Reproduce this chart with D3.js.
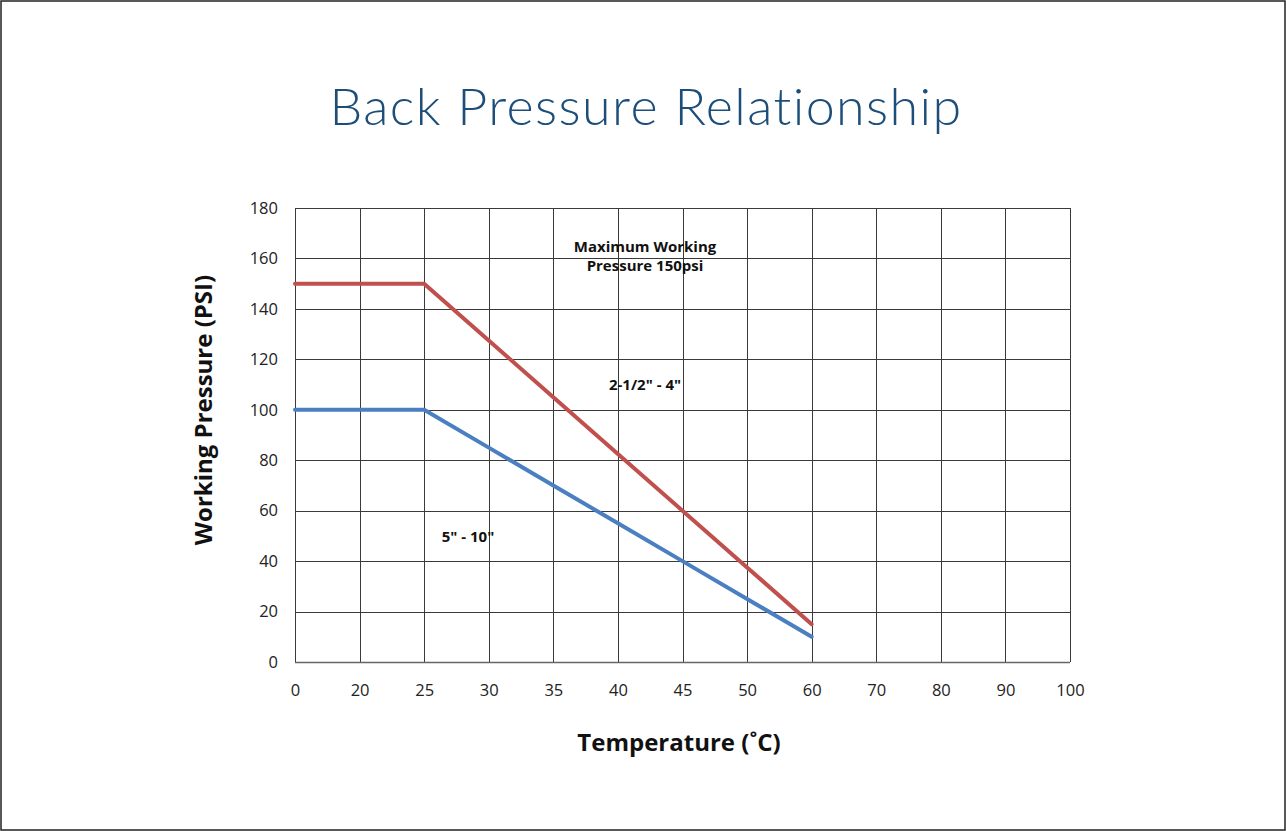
<!DOCTYPE html>
<html>
<head>
<meta charset="utf-8">
<script src="https://cdn.jsdelivr.net/npm/d3@7"></script>
<style>
  body { margin: 0; background: #fff; }
  text { font-family: "Open Sans", sans-serif; }
</style>
</head>
<body>
<svg id="chart" width="1286" height="831"></svg>
<script>
// temperature categories (evenly spaced on the chart, not linear)
var temps = ["0", "20", "25", "30", "35", "40", "45", "50", "60", "70", "80", "90", "100"];
var yTicks = [0, 20, 40, 60, 80, 100, 120, 140, 160, 180];

// pressure rating per size group
var smallSizes = [
  { t: "0", p: 150 }, { t: "20", p: 150 }, { t: "25", p: 150 },
  { t: "30", p: 127.5 }, { t: "35", p: 105 }, { t: "40", p: 82.5 },
  { t: "45", p: 60 }, { t: "50", p: 37.5 }, { t: "60", p: 15 }
];
var largeSizes = [
  { t: "0", p: 100 }, { t: "20", p: 100 }, { t: "25", p: 100 },
  { t: "30", p: 85 }, { t: "35", p: 70 }, { t: "40", p: 55 },
  { t: "45", p: 40 }, { t: "50", p: 25 }, { t: "60", p: 10 }
];

var svg = d3.select("#chart");

// outer frame
svg.append("rect")
  .attr("x", 1).attr("y", 1)
  .attr("width", 1284).attr("height", 829)
  .attr("fill", "none").attr("stroke", "#222").attr("stroke-width", 1.5);

svg.append("text")
  .attr("x", 646).attr("y", 125)
  .attr("text-anchor", "middle")
  .style("font-family", "Lato, 'Open Sans', sans-serif")
  .style("font-weight", 300)
  .style("font-size", "52px")
  .style("letter-spacing", "1.4px")
  .style("fill", "#1d4e7a")
  .text("Back Pressure Relationship");

var pLeft = 295, pRight = 1070, pTop = 208, pBottom = 662;

var x = d3.scalePoint().domain(temps).range([pLeft, pRight]);
var y = d3.scaleLinear().domain([0, 180]).range([pBottom, pTop]);

// grid
svg.append("g").selectAll("line")
  .data(yTicks)
  .enter().append("line")
    .attr("x1", pLeft).attr("x2", pRight)
    .attr("y1", function(d) { return Math.round(y(d)) + 0.5; })
    .attr("y2", function(d) { return Math.round(y(d)) + 0.5; })
    .attr("stroke", "#3a3a3a").attr("stroke-width", 1);

svg.append("g").selectAll("line")
  .data(temps)
  .enter().append("line")
    .attr("y1", pTop).attr("y2", pBottom)
    .attr("x1", function(d) { return Math.round(x(d)) + 0.5; })
    .attr("x2", function(d) { return Math.round(x(d)) + 0.5; })
    .attr("stroke", "#3a3a3a").attr("stroke-width", 1);

// bottom axis line a bit heavier
svg.append("line")
  .attr("x1", pLeft).attr("x2", pRight)
  .attr("y1", pBottom + 0.5).attr("y2", pBottom + 0.5)
  .attr("stroke", "#666").attr("stroke-width", 1.5);

// axes: labels only
var yAxis = svg.append("g")
  .attr("transform", "translate(" + (pLeft - 17) + ",0)")
  .call(d3.axisLeft(y).tickValues(yTicks).tickSize(0).tickPadding(0));
yAxis.select(".domain").remove();
yAxis.selectAll("text")
  .style("font-family", "'Open Sans', sans-serif")
  .style("font-size", "16.5px")
  .style("fill", "#222");

var xAxis = svg.append("g")
  .attr("transform", "translate(0," + (pBottom + 22) + ")")
  .call(d3.axisBottom(x).tickSize(0).tickPadding(0));
xAxis.select(".domain").remove();
xAxis.selectAll("text")
  .style("font-family", "'Open Sans', sans-serif")
  .style("font-size", "16.5px")
  .style("fill", "#222");

// series lines
var line = d3.line()
  .x(function(d) { return x(d.t); })
  .y(function(d) { return y(d.p); });

svg.append("path")
  .datum(largeSizes)
  .attr("d", line)
  .attr("fill", "none")
  .attr("stroke", "#4a7fc1")
  .attr("stroke-width", 4)
  .attr("stroke-linecap", "round");

svg.append("path")
  .datum(smallSizes)
  .attr("d", line)
  .attr("fill", "none")
  .attr("stroke", "#c0504d")
  .attr("stroke-width", 4)
  .attr("stroke-linecap", "round");

// annotations
function note(tx, ty, lines) {
  var t = svg.append("text")
    .attr("x", tx).attr("y", ty)
    .attr("text-anchor", "middle")
    .style("font-weight", 700)
    .style("font-size", "15px")
    .style("fill", "#111");
  lines.forEach(function(s, i) {
    t.append("tspan").attr("x", tx).attr("dy", i === 0 ? 0 : 19).text(s);
  });
}
note(645, 252, ["Maximum Working", "Pressure 150psi"]);
note(645, 390, ["2-1/2\" - 4\""]);
note(468, 542, ["5\" - 10\""]);

// axis titles
svg.append("text")
  .attr("transform", "translate(212,410) rotate(-90)")
  .attr("text-anchor", "middle")
  .style("font-weight", 700)
  .style("font-size", "24px")
  .style("fill", "#111")
  .text("Working Pressure (PSI)");

svg.append("text")
  .attr("x", 679).attr("y", 751)
  .attr("text-anchor", "middle")
  .style("font-weight", 700)
  .style("font-size", "24px")
  .style("fill", "#111")
  .text("Temperature (˚C)");
</script>
</body>
</html>
